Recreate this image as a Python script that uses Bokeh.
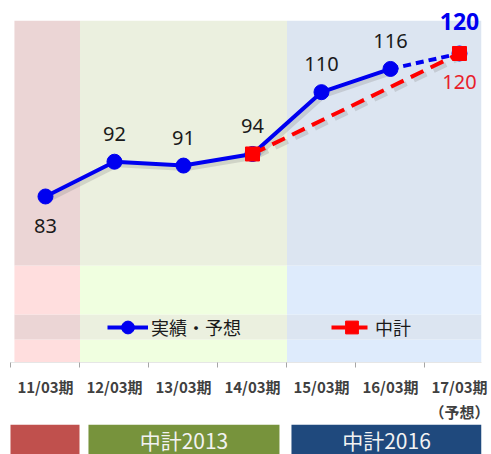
from bokeh.plotting import figure
from bokeh.models import Range1d, FixedTicker, Legend, LegendItem, ColumnDataSource
from bokeh.layouts import column
from bokeh.embed import file_html
from bokeh.resources import INLINE
from bokeh.core.properties import value

# ---------------- data ----------------
periods = ["11/03期", "12/03期", "13/03期", "14/03期", "15/03期", "16/03期", "17/03期"]
period_notes = ["", "", "", "", "", "", "（予想）"]
actual = [83, 92, 91, 94, 110, 116, 120]          # 実績・予想
forecast_start = 5                                  # last two points joined by dashed line (予想)
plan_idx = [3, 6]                                   # 中計 points
plan_values = [94, 120]
plan_names = ["", "中計2013", "中計2016"]
plan_first = [0, 1, 4]                              # first period index of each plan span
plan_last = [0, 3, 6]                               # last period index of each plan span

# ---------------- style ----------------
JP = "Noto Sans CJK JP"
NUM = "Noto Sans"
BLUE = "#0000F0"
RED = "#FF0000"
region_light = ["#FFDEDE", "#F0FFE0", "#DEEBFC"]
region_dark = ["#EBD5D5", "#EBF0DF", "#DCE5F1"]
box_colors = ["#C0504D", "#77933C", "#1F497D"]
box_pad_left = [0.022, -0.123, -0.065]
box_pad_right = [-0.007, -0.109, -0.181]
band_edges = [40.05, 46.0, 52.47, 65.15, 128.5]
band_dark = [False, True, False, True]
X0, X1 = -0.507, 6.319
Y0, Y1 = 40.05, 131.64

n = len(periods)
xs = list(range(n))

p = figure(width=491, height=424, output_backend="svg", toolbar_location=None,
           x_range=Range1d(X0, X1), y_range=Range1d(Y0, Y1),
           y_axis_location=None, min_border_left=10, min_border_right=10,
           min_border_top=8, min_border_bottom=0)
p.outline_line_color = None
p.grid.visible = False
p.background_fill_color = "white"
p.border_fill_color = "white"

# background regions with bands
ql, qr, qb, qt, qc = [], [], [], [], []
for r in range(len(plan_names)):
    left = max(plan_first[r] - 0.5, -0.45)
    right = min(plan_last[r] + 0.5, X1)
    for b in range(len(band_dark)):
        ql.append(left); qr.append(right)
        qb.append(band_edges[b]); qt.append(band_edges[b + 1])
        qc.append(region_dark[r] if band_dark[b] else region_light[r])
p.quad(left=ql, right=qr, bottom=qb, top=qt, fill_color=qc, line_color=None)

# shadows
sdx, sdy = 3 / 69.0, 3 / 3.865
p.line([x + sdx for x in xs[:forecast_start + 1]],
       [v - sdy for v in actual[:forecast_start + 1]],
       line_color="#808080", line_alpha=0.25, line_width=5)
p.line([x + sdx for x in plan_idx], [v - sdy for v in plan_values],
       line_color="#808080", line_alpha=0.25, line_width=5, line_dash="14 8")

# lines
blue_line = p.line(xs[:forecast_start + 1], actual[:forecast_start + 1],
                   line_color=BLUE, line_width=4)
p.line(xs[forecast_start:], actual[forecast_start:], line_color=BLUE,
       line_width=4, line_dash="8 5")
red_line = p.line(plan_idx, plan_values, line_color=RED, line_width=4, line_dash="14 8")
blue_pts = p.scatter(xs, actual, marker="circle", size=15, fill_color=BLUE, line_color=BLUE)
red_pts = p.scatter(plan_idx, plan_values, marker="square", size=14,
                    fill_color=RED, line_color=RED)

# data labels
lab_src = ColumnDataSource(dict(
    x=xs[:-1], y=actual[:-1], t=[str(v) for v in actual[:-1]],
    dy=[30 if i == 0 else -28 for i in range(n - 1)]))
p.text(x="x", y="y", text="t", y_offset="dy", source=lab_src, text_align="center",
       text_baseline="middle", text_font=value(NUM), text_font_size="20px",
       text_color="#1A1A1A")
p.text(x=[xs[-1]], y=[actual[-1]], text=[str(actual[-1])], y_offset=-32,
       text_align="center", text_baseline="middle", text_font=value(NUM),
       text_font_size="23px", text_font_style="bold", text_color=BLUE)
p.text(x=[plan_idx[-1]], y=[plan_values[-1]], text=[str(plan_values[-1])], y_offset=29,
       text_align="center", text_baseline="middle", text_font=value(NUM),
       text_font_size="20px", text_color="#E8202A")

# legend
legend = Legend(items=[LegendItem(label="実績・予想", renderers=[blue_line, blue_pts]),
                       LegendItem(label="中計", renderers=[red_line, red_pts])],
                location=(97, 19), orientation="horizontal", glyph_width=41,
                glyph_height=32, label_height=32, spacing=90, padding=0, margin=0,
                label_standoff=3, background_fill_alpha=0, border_line_alpha=0,
                label_text_font=JP, label_text_font_size="18px",
                label_text_color="#1A1A1A")
p.add_layout(legend)

# x axis
xa = p.xaxis[0]
xa.ticker = FixedTicker(ticks=xs, minor_ticks=[i - 0.5 for i in range(n + 1)])
xa.major_label_overrides = {i: periods[i] + ("\n" + period_notes[i] if period_notes[i] else "")
                            for i in xs}
xa.major_tick_line_color = None
xa.major_tick_out = 0
xa.major_tick_in = 0
xa.minor_tick_in = 0
xa.minor_tick_out = 5
xa.minor_tick_line_color = "#A6A6A6"
xa.axis_line_color = "#E6E6E6"
xa.major_label_standoff = 8
xa.major_label_text_font = JP
xa.major_label_text_font_size = "15px"
xa.major_label_text_font_style = "bold"
xa.major_label_text_color = "#404040"

# plan boxes underneath (frame aligned with the chart's frame)
p2 = figure(width=491, height=30, output_backend="svg", toolbar_location=None,
            x_range=p.x_range, y_range=Range1d(0, 1),
            x_axis_location=None, y_axis_location=None,
            min_border_left=10, min_border_right=10, min_border_top=0, min_border_bottom=0)
p2.outline_line_color = None
p2.grid.visible = False
p2.border_fill_color = "white"
p2.background_fill_color = "white"
bl = [plan_first[i] - 0.5 - box_pad_left[i] for i in range(3)]
br = [plan_last[i] + 0.5 + box_pad_right[i] for i in range(3)]
p2.quad(left=bl, right=br, bottom=0, top=1, fill_color=box_colors, line_color=None)
p2.text(x=[(bl[i] + br[i]) / 2 for i in range(3)], y=[0.5] * 3, text=plan_names,
        text_align="center", text_baseline="middle", text_font=value(JP),
        text_font_size="21px", text_color="#F2F2F2")

layout = column(p, p2)
open("out.html", "w").write(file_html(layout, INLINE))
